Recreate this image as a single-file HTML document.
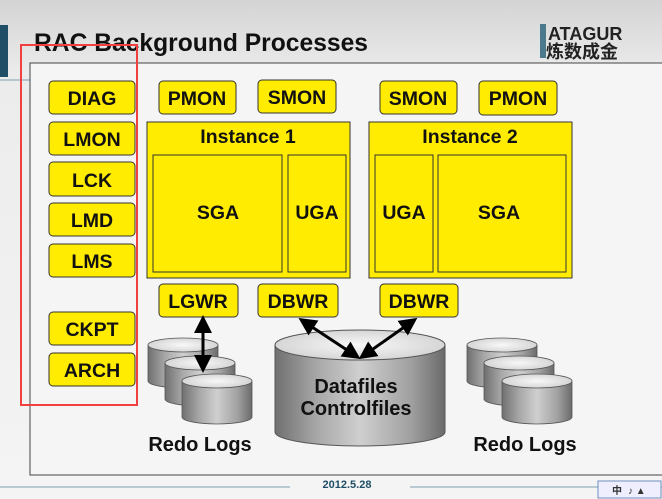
<!DOCTYPE html>
<html><head><meta charset="utf-8"><style>
html,body{margin:0;padding:0;width:662px;height:499px;overflow:hidden;background:#f2f2f2}
svg{display:block}
text{font-family:"Liberation Sans",Arial,sans-serif;font-weight:bold}
</style></head><body>
<svg width="662" height="499" viewBox="0 0 662 499" xmlns="http://www.w3.org/2000/svg">
<defs>
<linearGradient id="bg" x1="0" y1="0" x2="0" y2="1">
<stop offset="0" stop-color="#d4d4d4"/><stop offset="0.15" stop-color="#ececec"/><stop offset="1" stop-color="#f4f4f4"/></linearGradient>
<linearGradient id="cyl" x1="0" y1="0" x2="1" y2="0">
<stop offset="0" stop-color="#707070"/><stop offset="0.25" stop-color="#a8a8a8"/><stop offset="0.5" stop-color="#cfcfcf"/><stop offset="0.8" stop-color="#a0a0a0"/><stop offset="1" stop-color="#6a6a6a"/></linearGradient>
<radialGradient id="top" cx="0.5" cy="0.5" r="0.6"><stop offset="0" stop-color="#f8f8f8"/><stop offset="1" stop-color="#cfcfcf"/></radialGradient>
<marker id="ah" markerWidth="6" markerHeight="6" refX="3" refY="3" orient="auto-start-reverse" markerUnits="strokeWidth"><path d="M0,0 L6,3 L0,6 z" fill="#000"/></marker>
<g id="cy"><path d="M0,7 V43 A35,7 0 0 0 70,43 V7" fill="url(#cyl)" stroke="#555" stroke-width="0.8"/><ellipse cx="35" cy="7" rx="35" ry="7" fill="url(#top)" stroke="#555" stroke-width="0.8"/></g>
</defs>
<rect width="662" height="499" fill="url(#bg)"/>
<rect x="0" y="25" width="8" height="52" fill="#1f4e66"/>
<text x="34" y="51" font-size="25" fill="#111" textLength="334" lengthAdjust="spacingAndGlyphs">RAC Background Processes</text>
<rect x="540" y="24" width="6" height="34" fill="#4a7a8c"/>
<text x="548" y="40" font-size="18" fill="#222" font-weight="normal">ATAGUR</text>
<text x="546" y="58" font-size="18" fill="#222" style="font-family:'Noto Sans CJK SC',sans-serif">炼数成金</text>
<line x1="0" y1="80" x2="662" y2="80" stroke="#7f9fb0" stroke-width="1"/>
<rect x="30" y="63" width="640" height="412" fill="#f5f5f5" stroke="#444" stroke-width="1"/>
<g stroke="#333" stroke-width="1" fill="#ffec00">
<rect x="49" y="81" width="86" height="33" rx="4"/>
<rect x="49" y="122" width="86" height="33" rx="4"/>
<rect x="49" y="162" width="86" height="34" rx="4"/>
<rect x="49" y="203" width="86" height="33" rx="4"/>
<rect x="49" y="244" width="86" height="33" rx="4"/>
<rect x="49" y="312" width="86" height="33" rx="4"/>
<rect x="49" y="353" width="86" height="33" rx="4"/>
<rect x="159" y="81" width="77" height="33" rx="4"/>
<rect x="258" y="80" width="78" height="33" rx="4"/>
<rect x="380" y="81" width="77" height="33" rx="4"/>
<rect x="479" y="81" width="78" height="34" rx="4"/>
<rect x="147" y="122" width="203" height="156"/>
<rect x="153" y="155" width="129" height="117"/>
<rect x="288" y="155" width="58" height="117"/>
<rect x="369" y="122" width="203" height="156"/>
<rect x="375" y="155" width="58" height="117"/>
<rect x="438" y="155" width="128" height="117"/>
<rect x="159" y="284" width="79" height="33" rx="4"/>
<rect x="258" y="284" width="80" height="33" rx="4"/>
<rect x="380" y="284" width="78" height="33" rx="4"/>
</g>
<g font-size="19.5" fill="#111" text-anchor="middle">
<text x="92" y="105">DIAG</text><text x="92" y="146">LMON</text><text x="92" y="187">LCK</text>
<text x="92" y="227">LMD</text><text x="92" y="268">LMS</text><text x="92" y="336">CKPT</text><text x="92" y="377">ARCH</text>
<text x="197" y="105">PMON</text><text x="297" y="104">SMON</text><text x="418" y="105">SMON</text><text x="518" y="105">PMON</text>
<text x="248" y="143">Instance 1</text><text x="470" y="143">Instance 2</text>
<text x="218" y="219">SGA</text><text x="317" y="219">UGA</text><text x="404" y="219">UGA</text><text x="499" y="219">SGA</text>
<text x="198" y="308">LGWR</text><text x="298" y="308">DBWR</text><text x="419" y="308">DBWR</text>
</g>
<use href="#cy" x="148" y="338"/><use href="#cy" x="165" y="356"/><use href="#cy" x="182" y="374"/>
<use href="#cy" x="467" y="338"/><use href="#cy" x="484" y="356"/><use href="#cy" x="502" y="374"/>
<path d="M275,345 V432 A85,14 0 0 0 445,432 V345" fill="url(#cyl)" stroke="#555"/>
<ellipse cx="360" cy="345" rx="85" ry="15" fill="url(#top)" stroke="#555"/>
<g font-size="20" fill="#111" text-anchor="middle">
<text x="356" y="393">Datafiles</text><text x="356" y="415">Controlfiles</text>
<text x="200" y="451">Redo Logs</text><text x="525" y="451">Redo Logs</text>
</g>
<g stroke="#000" stroke-width="3" marker-start="url(#ah)" marker-end="url(#ah)">
<line x1="203" y1="324" x2="203" y2="364"/>
<line x1="306" y1="323" x2="353" y2="354"/>
<line x1="410" y1="323" x2="366" y2="354"/>
</g>
<rect x="21" y="45" width="116" height="360" fill="none" stroke="#f04040" stroke-width="2"/>
<line x1="0" y1="487" x2="290" y2="487" stroke="#7f9fb0"/>
<line x1="410" y1="487" x2="662" y2="487" stroke="#7f9fb0"/>
<text x="347" y="488" font-size="11" fill="#1f4e66" text-anchor="middle">2012.5.28</text>
<rect x="598" y="481" width="63" height="17" fill="#eef" stroke="#7090c0"/>
<text x="612" y="494" font-size="10" fill="#333" font-weight="normal" style="font-family:'Noto Sans CJK SC',sans-serif">中</text>
<text x="628" y="494" font-size="10" fill="#333">♪ ▲</text>
</svg>
</body></html>
